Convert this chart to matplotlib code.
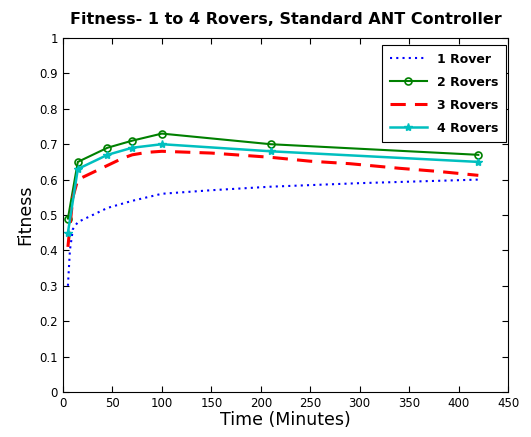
import matplotlib
matplotlib.use("Agg")
import matplotlib.pyplot as plt

title = "Fitness- 1 to 4 Rovers, Standard ANT Controller"

t1 = [5, 7, 10, 15, 30, 45, 70, 100, 150, 210, 300, 420]
f1 = [0.30, 0.40, 0.46, 0.48, 0.50, 0.52, 0.54, 0.56, 0.57, 0.58, 0.59, 0.60]

t2 = [5, 15, 45, 70, 100, 210, 420]
f2 = [0.49, 0.65, 0.69, 0.71, 0.73, 0.70, 0.67]

t3 = [5, 10, 15, 30, 45, 60, 70, 85, 100, 150, 210, 250, 290, 340, 380, 420]
f3 = [0.41, 0.55, 0.60, 0.62, 0.64, 0.66, 0.67, 0.677, 0.68, 0.675, 0.663, 0.652, 0.645, 0.632, 0.623, 0.612]

t4 = [5, 15, 45, 70, 100, 210, 420]
f4 = [0.45, 0.63, 0.67, 0.69, 0.70, 0.68, 0.65]

labels = ["1 Rover", "2 Rovers", "3 Rovers", "4 Rovers"]

fig = plt.figure(figsize=(5.31, 4.37), dpi=100)
ax = fig.add_axes([0.1186, 0.103, 0.8381, 0.810])

ax.plot(t1, f1, linestyle=(0, (1, 2)), color="#0000ff", lw=1.5, label=labels[0])
ax.plot(t2, f2, linestyle="-", color="#008000", lw=1.5, marker="o", ms=5,
        mfc="none", mec="#008000", mew=1.2, label=labels[1])
ax.plot(t3, f3, linestyle=(0, (5, 3)), color="#ff0000", lw=2.2, label=labels[2])
ax.plot(t4, f4, linestyle="-", color="#00bfbf", lw=1.8, marker="*", ms=6,
        mec="#00bfbf", label=labels[3])

ax.set_xlim(0, 450)
ax.set_ylim(0, 1)
ax.set_xticks(range(0, 451, 50))
ax.set_yticks([i / 10 for i in range(11)])
ax.set_yticklabels(["0", "0.1", "0.2", "0.3", "0.4", "0.5", "0.6", "0.7", "0.8", "0.9", "1"])
ax.tick_params(direction="in", top=True, right=True, labelsize=8.5, length=4)
for s in ax.spines.values():
    s.set_linewidth(0.8)

ax.set_title(title, fontsize=11.5, fontweight="bold", pad=10)
ax.set_xlabel("Time (Minutes)", fontsize=12.5, labelpad=1)
ax.set_ylabel("Fitness", fontsize=12.5, labelpad=4)

leg = ax.legend(loc="upper right", bbox_to_anchor=(0.9955, 0.98), borderaxespad=0,
                fancybox=False, edgecolor="black", framealpha=1,
                prop={"weight": "bold", "size": 9},
                handlelength=3, borderpad=0.6, labelspacing=0.8)
leg.get_frame().set_linewidth(0.8)

fig.savefig("out.png", dpi=100)
